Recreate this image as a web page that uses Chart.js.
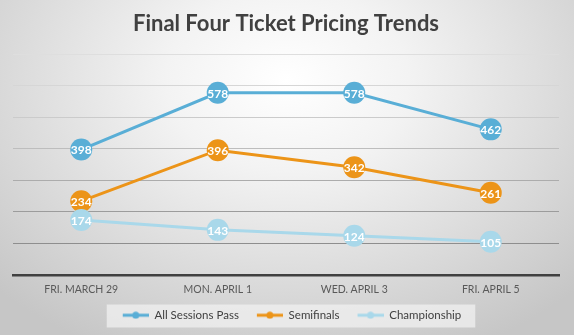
<!DOCTYPE html>
<html>
<head>
<meta charset="utf-8">
<script src="https://cdn.jsdelivr.net/npm/chart.js@4"></script>
<style>
    html, body { margin: 0; padding: 0; background: #ffffff; }
    #wrap { width: 574px; height: 335px; position: relative; }
</style>
</head>
<body>
<div id="wrap"><canvas id="chart"></canvas></div>
<script>
const days = ['FRI. MARCH 29', 'MON. APRIL 1', 'WED. APRIL 3', 'FRI. APRIL 5'];
const allSessions = [398, 578, 578, 462];
const semifinals = [234, 396, 342, 261];
const championship = [174, 143, 124, 105];

const seriesNames = ['All Sessions Pass', 'Semifinals', 'Championship'];
const seriesColors = ['#59aed6', '#ec9418', '#a9d8ea'];

const FONT = 'Lato, "Open Sans", sans-serif';

// "line with a dot" swatch for the legend, with a blank strip on the left as item spacing
const SWATCH_GAP = 12;
function legendSwatch(color) {
    const c = document.createElement('canvas');
    c.width = 26 + SWATCH_GAP; c.height = 8;
    const g = c.getContext('2d');
    g.strokeStyle = color;
    g.lineWidth = 3;
    g.beginPath(); g.moveTo(SWATCH_GAP, 4); g.lineTo(SWATCH_GAP + 26, 4); g.stroke();
    g.fillStyle = color;
    g.beginPath(); g.arc(SWATCH_GAP + 13, 4, 3.5, 0, Math.PI * 2); g.fill();
    return c;
}

const backdrop = {
    id: 'backdrop',
    beforeDraw(chart) {
        const { ctx, width, height } = chart;
        ctx.save();
        ctx.translate(width / 2, 80);
        ctx.scale(1.35, 1);
        const grad = ctx.createRadialGradient(0, 0, 0, 0, 0, 300);
        grad.addColorStop(0, '#ffffff');
        grad.addColorStop(0.3, '#f3f3f3');
        grad.addColorStop(1, '#c6c6c6');
        ctx.fillStyle = grad;
        ctx.fillRect(-width, -200, width * 2, height + 400);
        ctx.restore();

        // legend panel
        const boxes = chart.legend.legendHitBoxes;
        if (boxes && boxes.length) {
            const l = Math.min(...boxes.map(b => b.left)) + SWATCH_GAP;
            const r = Math.max(...boxes.map(b => b.left + b.width));
            const t = boxes[0].top;
            ctx.save();
            ctx.fillStyle = 'rgba(240,240,240,0.75)';
            ctx.fillRect(l - 16, t - 5, (r - l) + 30, 23);
            ctx.restore();
        }
    }
};

const pointLabels = {
    id: 'pointLabels',
    afterDatasetsDraw(chart) {
        const { ctx } = chart;
        ctx.save();
        ctx.font = 'bold 12px ' + FONT;
        ctx.fillStyle = '#ffffff';
        ctx.textAlign = 'center';
        ctx.textBaseline = 'middle';
        chart.data.datasets.forEach((ds, i) => {
            chart.getDatasetMeta(i).data.forEach((pt, j) => {
                ctx.fillText(ds.data[j], pt.x, pt.y + 1);
            });
        });
        ctx.restore();
    }
};

const gridShades = { 100: '#8e8e8e', 200: '#9c9c9c', 300: '#acacac', 400: '#bdbdbd', 500: '#cbcbcb', 600: '#d6d6d6', 700: '#dedede' };

new Chart(document.getElementById('chart').getContext('2d'), {
    type: 'line',
    data: {
        labels: days,
        datasets: [allSessions, semifinals, championship].map((d, i) => ({
            label: seriesNames[i],
            data: d,
            borderColor: seriesColors[i],
            backgroundColor: seriesColors[i],
            pointBackgroundColor: seriesColors[i],
            pointBorderWidth: 0,
            pointStyle: 'circle',
            pointRadius: 11,
            pointHoverRadius: 11,
            borderWidth: 3,
            tension: 0,
            order: 2 - i
        }))
    },
    options: {
        responsive: true,
        maintainAspectRatio: false,
        animation: false,
        events: [],
        layout: { padding: { left: 13, right: 15, top: 0, bottom: 4 } },
        plugins: {
            title: {
                display: true,
                text: 'Final Four Ticket Pricing Trends',
                color: '#404040',
                font: { family: FONT, size: 22, weight: 'bold' },
                padding: { top: 11, bottom: 17 }
            },
            legend: {
                position: 'bottom',
                labels: {
                    color: '#404040',
                    font: { family: FONT, size: 11.5 },
                    usePointStyle: true,
                    pointStyleWidth: 26 + SWATCH_GAP,
                    padding: 6,
                    generateLabels: chart => chart.data.datasets.map((ds, i) => ({
                        text: ds.label,
                        fillStyle: ds.borderColor,
                        strokeStyle: ds.borderColor,
                        lineWidth: 0,
                        pointStyle: legendSwatch(ds.borderColor),
                        fontColor: '#404040',
                        datasetIndex: i,
                        hidden: false
                    }))
                }
            },
            tooltip: { enabled: false }
        },
        scales: {
            x: {
                offset: true,
                grid: { display: false, drawTicks: false },
                border: { display: true, color: '#404040', width: 2.5 },
                ticks: { color: '#595959', font: { family: FONT, size: 10.5 }, padding: 8 }
            },
            y: {
                min: 0,
                max: 700,
                ticks: { display: false, stepSize: 100 },
                border: { display: false },
                grid: {
                    drawTicks: false,
                    lineWidth: 1,
                    color: c => c.tick && c.tick.value > 0 ? gridShades[c.tick.value] : 'rgba(0,0,0,0)'
                }
            }
        }
    },
    plugins: [backdrop, pointLabels]
});
</script>
</body>
</html>
